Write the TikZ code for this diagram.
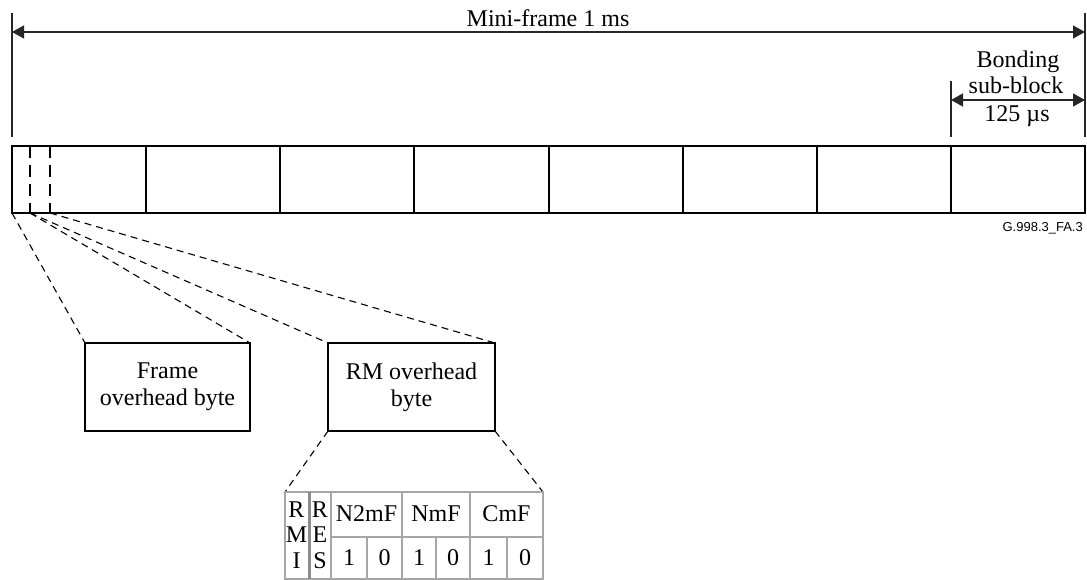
\documentclass[tikz,border=0pt]{standalone}
\usepackage{fontspec}
\setmainfont{Liberation Serif}
\newfontfamily\sansf{Liberation Sans}
\usetikzlibrary{arrows.meta}
\begin{document}
\begin{tikzpicture}[x=1bp,y=-1bp,
  font=\fontsize{24bp}{27bp}\selectfont,
  blockbox/.style={draw,line width=2bp,minimum width=134.125bp,minimum height=67bp,inner sep=0pt,outer sep=0pt},
  dim/.style={line width=1.3bp,draw=black!85},
  dimarrow/.style={dim,{Triangle[length=12bp,width=13bp]}-{Triangle[length=12bp,width=13bp]}},
  fan/.style={dash pattern=on 7bp off 5bp,line width=1.1bp},
  ohbox/.style={draw,line width=2bp,minimum height=88bp,align=center,inner sep=0pt,outer sep=0pt},
  lbl/.style={inner sep=0pt,align=center},
  tgrid/.style={draw=black!35,line width=1.5bp},
  tsep/.style={draw=black!45,line width=3bp},
  ohdash/.style={dash pattern=on 12bp off 7bp,line width=2bp},
]
\useasboundingbox (0,0) rectangle (1087,580);

% frame blocks
\foreach \i in {1,...,8}
  \node[blockbox] (b\i) at ({12+134.125*(\i-0.5)},179.5) {};
\draw[ohdash] (30,146) -- (30,213);
\draw[ohdash] (50,146) -- (50,213);

% mini-frame dimension
\coordinate (mL) at (12,32);
\coordinate (mR) at (1085,32);
\draw[dim] (12,13) -- (12,137);
\draw[dim] (1085,13) -- (1085,137);
\draw[dimarrow] (mL) -- (mR);
\node[lbl] (mtxt) at (548,18) {Mini-frame 1 ms};

% bonding sub-block dimension
\coordinate (sL) at (951,100);
\coordinate (sR) at (1085,100);
\draw[dim] (951,81) -- (951,137);
\draw[dimarrow] (sL) -- (sR);
\node[lbl] (bt1) at (1018,62) {Bonding};
\node[lbl] (bt2) at (1016,85) {sub-block};
\node[lbl] (bt3) at (1017,116) {125 µs};

\node[anchor=east,inner sep=0pt,font=\sansf\fontsize{13bp}{15bp}\selectfont] (fig) at (1083,228) {G.998.3\_FA.3};

% overhead boxes
\node[ohbox,minimum width=165bp] (fob) at (167.5,387) {Frame\\overhead byte};
\node[ohbox,minimum width=167bp] (rmb) at (411.5,387) {RM overhead\\byte};

\coordinate (p0) at (12,213);
\coordinate (p1) at (30,213);
\coordinate (p2) at (50,213);
\draw[fan] (p0) -- (fob.north west);
\draw[fan] (p1) -- (fob.north east);
\draw[fan] (p1) -- (rmb.north west);
\draw[fan] (p2) -- (rmb.north east);

% table
\coordinate (tL) at (285,492);
\coordinate (tR) at (543,492);
\draw[fan] (rmb.south west) -- (tL);
\draw[fan] (rmb.south east) -- (tR);
\draw[tgrid] (285,492) rectangle (543,579);
\draw[tgrid] (331,537) -- (543,537);
\draw[tsep] (309,492) -- (309,579);
\foreach \x in {331,402,470} \draw[tgrid] (\x,492) -- (\x,579);
\foreach \x in {367,436,507} \draw[tgrid] (\x,537) -- (\x,579);

\node[lbl] (r1) at (296.5,510) {R};
\node[lbl] (r2) at (296.5,535) {M};
\node[lbl] (r3) at (296.5,561) {I};
\node[lbl] (s1) at (320,510) {R};
\node[lbl] (s2) at (320,535) {E};
\node[lbl] (s3) at (320,561) {S};
\node[lbl] (h1) at (366.5,514) {N2mF};
\node[lbl] (h2) at (436,514) {NmF};
\node[lbl] (h3) at (506.5,514) {CmF};
\node[lbl] (v1) at (349,558) {1};
\node[lbl] (v2) at (384.5,558) {0};
\node[lbl] (v3) at (419,558) {1};
\node[lbl] (v4) at (453,558) {0};
\node[lbl] (v5) at (488.5,558) {1};
\node[lbl] (v6) at (525,558) {0};
\end{tikzpicture}
\end{document}
